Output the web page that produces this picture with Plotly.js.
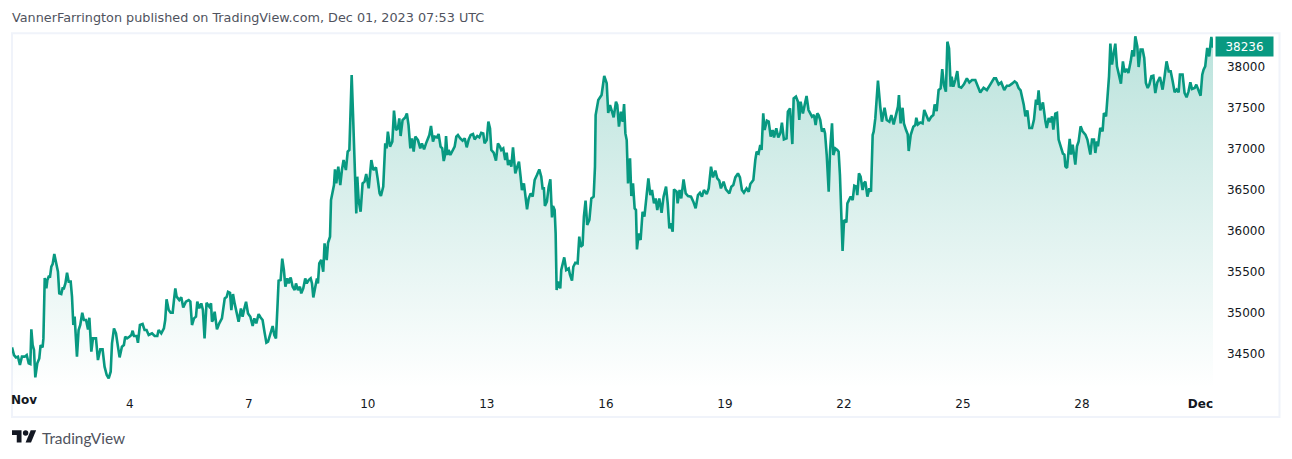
<!DOCTYPE html>
<html><head><meta charset="utf-8">
<script src="https://cdn.plot.ly/plotly-3.0.1.min.js"></script>
<style>html,body{margin:0;padding:0;background:#fff;overflow:hidden}#c{width:1292px;height:459px}</style>
</head><body><div id="c"></div>
<script>
// [hours since Nov 1 00:00 UTC, BTC price]
const nov1to6 = [[0,34579],[1.2,34486],[2.4,34457],[3.6,34466],[4.8,34364],[6,34466],[7.7,34466],[8.9,34486],[10.1,34384],[11.1,34376],[11.7,34799],[12.5,34608],[13.3,34547],[14.1,34213],[15.3,34384],[16.5,34445],[17.3,34608],[18.5,34579],[19,34689],[19.8,35425],[20.8,35299],[21.4,35401],[22.2,35442],[23,35442],[23.8,35564],[24.6,35596],[25.6,35718],[26.8,35604],[27.8,35503],[28.6,35238],[29.8,35230],[30.6,35299],[31.4,35299],[32.3,35360],[33.3,35490],[34.3,35381],[35.5,35381],[36.3,35198],[37.1,34852],[37.9,34954],[38.7,34669],[39.3,34466],[40.3,34791],[41.3,34852],[42.5,35002],[43.5,34913],[44.8,34913],[46,34799],[46.8,34941],[48,34527],[49,34689],[50.8,34689],[52,34425],[53.4,34555],[54.8,34555],[56,34344],[57.3,34242],[58.5,34201],[59.7,34283],[60.5,34628],[61.7,34811],[62.9,34750],[64.1,34588],[65.1,34457],[66.5,34588],[67.7,34608],[68.5,34710],[69.6,34689],[71,34710],[72.2,34730],[73,34783],[73.8,34718],[75.4,34718],[76.2,34636],[77.4,34852],[79,34864],[80.2,34791],[81.4,34791],[82.7,34730],[84.7,34750],[86.3,34718],[87.9,34718],[88.7,34791],[90.3,34750],[91.9,34811],[92.7,34913],[93.5,35165],[94.8,35035],[96,35002],[97.2,35002],[98,35157],[98.8,35299],[99.6,35198],[101.2,35157],[102.4,35190],[103.6,35067],[105.2,35137],[106.9,35157],[107.9,35137],[108.9,34852],[110.1,34933],[111.3,34954],[112.1,35137],[113.3,35055],[114.5,35116],[115.5,35035],[116.5,34689],[117.7,35124],[119.4,35076],[120.4,35116],[121,34893]];
const nov6to11 = [[121.6,34913],[122.6,35014],[124,34799],[125.4,34872],[127,34933],[128.7,35177],[129.9,35197],[130.7,35258],[131.9,35246],[132.7,35035],[133.7,35230],[134.7,35116],[135.9,34994],[137.1,34892],[138.5,35055],[139.5,34953],[140.6,35055],[141.6,35136],[142.8,34994],[144.2,34953],[145.6,34840],[146.6,34933],[147.8,34872],[149.2,34986],[150.4,34945],[151.6,34913],[152.9,34750],[153.9,34636],[154.9,34648],[156.3,34750],[157.7,34840],[158.7,34730],[159.7,34689],[160.7,35116],[161.3,35393],[162.5,35401],[163.5,35661],[164.5,35523],[165.4,35319],[166.6,35421],[167.4,35360],[168.6,35433],[169.8,35319],[171,35279],[171.8,35360],[173,35279],[174.2,35319],[175,35238],[176.2,35299],[177.4,35421],[178.3,35360],[179.5,35401],[180.7,35421],[181.5,35360],[182.3,35189],[183.5,35319],[184.5,35421],[185.1,35360],[185.9,35604],[187.1,35645],[188.3,35502],[189.1,35848],[190.4,35645],[191.2,35856],[192.4,35930],[193,36377],[194,36466],[194.8,36560],[195.4,36751],[196.2,36580],[197.4,36784],[198.6,36560],[199.6,36743],[200.6,36865],[202,36743],[203.1,36967],[204.1,36987],[204.9,37597],[205.5,37902],[206.3,37434],[207.3,36743],[208.3,36214],[208.9,36662],[209.7,36377],[210.9,36235],[212.1,36580],[213.3,36601],[214.3,36694],[215.8,36519],[216.6,36702],[217.4,36865],[218.6,36743],[220.2,36775],[221.2,36641],[222.4,36458],[223.2,36426],[224.6,36540],[225.8,37068],[226.6,37007],[227.4,37211],[228.7,37028],[230.1,37089],[231.1,37467],[232.3,37231],[233.5,37251],[234.3,37373],[235.1,37158],[236.3,37353],[237.9,37385],[238.9,37434],[239.9,37292],[241,37007]];
const nov11to16 = [[242,37129],[243,36967],[244,37150],[245.6,37109],[247,37007],[248,37068],[249.3,36995],[250.5,37068],[251.7,37142],[252.5,37170],[253.5,37280],[254.7,37089],[255.7,37150],[257.1,37142],[258.1,37182],[259.3,37028],[260.3,37007],[261.2,36853],[262,36926],[262.6,37158],[263.4,36926],[264.2,36987],[265.2,36926],[266.6,36987],[267.8,37028],[268.8,37150],[269.8,37170],[271.2,37129],[272.6,37101],[273.9,37129],[275.1,37020],[276.3,37117],[277.5,37170],[278.9,37182],[279.9,37117],[281.5,37158],[282.7,37142],[283.9,37198],[285.1,37190],[285.9,37068],[287.2,37109],[288.2,37333],[289.2,37251],[290,36987],[291.4,36954],[292.8,36857],[294,37068],[295.2,37028],[296,36987],[297.2,37007],[298.4,36865],[299.3,36954],[300.1,36804],[301.1,36865],[302.1,36784],[303.1,37020],[304.5,36702],[305.7,36784],[306.7,36845],[307.7,36662],[308.5,36499],[309.7,36580],[310.5,36458],[311.6,36263],[312.6,36397],[313.8,36458],[315,36418],[316.2,36621],[317.6,36682],[319,36751],[320.2,36662],[321,36519],[321.8,36519],[322.4,36304],[323.6,36357],[324.7,36540],[325.7,36629],[326.7,36165],[327.3,36304],[328.3,36255],[328.9,35970],[329.5,35279],[330.3,35380],[331.7,35299],[332.3,35523],[333.1,35584],[334.1,35677],[335.3,35523],[336.8,35543],[337.6,35462],[338.8,35393],[339.6,35563],[340.8,35612],[342.2,35604],[343.2,35930],[344,35808],[345.2,35828],[346,36174],[347,36369],[348,36072],[349.3,36133],[350.5,36397],[351.9,36418],[352.7,36784],[353.1,37414],[354.7,37597],[356.7,37658],[358.3,37890],[359.8,37801],[360.7,37439],[361.8,37536]];
const nov16to21 = [[363,37455],[364,37385],[365.4,37577],[366.2,37536],[367.2,37272],[368.4,37455],[369.5,37333],[370.3,37548],[371.1,37190],[371.9,37109],[372.7,36580],[373.9,36885],[374.7,36426],[375.7,36580],[376.7,36275],[377.5,36255],[378.1,35775],[379.1,35970],[380.3,35889],[381.5,36234],[382.6,36174],[383.6,36377],[385,36641],[386.2,36438],[387.2,36499],[388.4,36336],[389.4,36397],[390.4,36255],[391.6,36397],[393,36222],[394.2,36418],[395.7,36540],[396.7,36336],[397.7,36031],[398.5,36092],[399.7,35990],[400.5,36507],[402.1,36479],[402.7,36336],[403.9,36499],[404.9,36397],[406.3,36629],[407.6,36458],[409,36426],[410.8,36418],[412.2,36357],[413.6,36275],[415,36438],[416.2,36466],[417.4,36418],[418.6,36499],[420.3,36450],[421.5,36519],[422.9,36784],[424.1,36653],[425.5,36735],[426.7,36641],[427.9,36613],[428.9,36519],[430.5,36601],[431.9,36507],[434,36458],[435.2,36540],[436.4,36560],[437.6,36653],[439.2,36702],[440.4,36653],[441.6,36499],[442.8,36466],[444.4,36519],[445.7,36479],[446.7,36572],[448.5,36621],[449.7,36865],[450.5,36967],[451.7,36946],[452.7,37048],[453.5,36987],[454.5,37434],[455.3,37231],[456.7,37345],[457.8,37333],[459,37150],[460.2,37231],[461,37141],[462.4,37251],[463.6,37141],[464.8,37190],[465.8,37320],[467,37117],[468.6,37129],[469.4,37455],[470.7,37495],[472.1,37060],[472.9,37617],[474.3,37638],[475.5,37577],[476.3,37353],[477.1,37577],[478.5,37434],[479.5,37536],[480.7,37646],[481.9,37475],[484,37394]];
const nov21to26 = [[485.2,37414],[486.2,37292],[487.2,37434],[488,37414],[489,37353],[490,37211],[491.1,37251],[491.9,37190],[492.9,36926],[494.1,36479],[494.9,36967],[496.1,37312],[496.9,36926],[498.1,37007],[499.3,36987],[500.1,36967],[500.9,36682],[502.1,36031],[502.5,35755],[503.4,36133],[504.8,36104],[505.4,36336],[506.2,36377],[507.4,36418],[508.6,36377],[509.6,36552],[510.8,36540],[511.4,36438],[512.4,36702],[513.4,36662],[514.6,36499],[515.4,36580],[516.3,36601],[517.5,36418],[518.7,36519],[519.7,36479],[520.7,37170],[521.3,37211],[522.3,37373],[523.9,37833],[525.3,37516],[526.3,37333],[527.9,37503],[529.2,37353],[530.8,37333],[532,37414],[533.4,37300],[534.8,37434],[536,37516],[536.6,37658],[537.6,37312],[538.8,37503],[539.6,37312],[540.9,37231],[541.9,37178],[542.5,36975],[543.7,37170],[545.3,37272],[546.5,37292],[547.1,37381],[548.1,37300],[549.5,37324],[550.9,37312],[551.9,37475],[553.1,37414],[554.6,37341],[556.2,37394],[557.4,37414],[558.2,37544],[559.4,37463],[560.6,37719],[561.8,37739],[562.8,37975],[563.8,37780],[565,37699],[565.9,38309],[566.9,38227],[567.9,37760],[568.5,37882],[569.5,37760],[570.7,37841],[571.9,37951],[572.9,37760],[574.3,37747],[575.9,37788],[577.7,37861],[579.2,37812],[580.8,37841],[582.8,37841],[584.2,37760],[585.8,37690],[587.8,37747],[589.8,37719],[591.9,37788],[594.1,37861],[595.3,37861],[596.9,37788],[598.5,37812],[600.3,37719],[601.9,37772],[603.3,37772]];
const nov26toDec1 = [[605,37797],[606.6,37825],[607.8,37805],[609,37744],[610.2,37715],[611,37642],[612.1,37541],[613.1,37398],[614.3,37471],[615.5,37256],[617.1,37256],[618.3,37358],[619.5,37602],[620.3,37541],[621.1,37715],[622.1,37471],[623.7,37569],[625.2,37337],[626,37256],[627.2,37378],[628.2,37325],[629.2,37398],[630,37236],[631.2,37431],[632.2,37439],[633.2,37114],[634.8,36992],[635.8,36943],[636.7,36931],[637.3,36788],[638.3,36768],[639.3,37032],[639.9,37122],[640.7,36931],[641.7,37053],[643.3,36809],[644.3,37032],[645.3,37093],[646.5,37276],[647.7,37215],[649.4,37175],[650.6,37114],[651.4,37012],[652.4,36931],[653.4,37114],[654.6,37114],[655.4,36951],[656.4,37093],[657,37032],[658.4,37256],[659.8,37215],[660.6,37439],[661.9,37398],[662.7,37602],[663.7,37886],[664.5,38285],[665.5,38029],[666.5,38163],[667.5,38285],[668.5,38008],[669.9,37886],[670.9,37797],[672.1,38069],[673.1,37935],[674.4,37976],[675.4,37927],[676.8,38069],[677.8,38204],[678.8,38130],[679.6,38374],[680.8,38252],[681.6,38000],[682.8,38212],[684,38212],[685,38110],[686,37805],[687.1,37744],[688.1,37785],[689.3,37886],[690.5,37894],[691.7,37683],[692.9,37813],[694.5,37878],[696.1,37724],[697.3,37886],[698.5,38069],[699.8,37947],[701,37947],[702.2,37825],[703.4,37691],[704.6,37724],[705.8,37691],[706.6,37907],[708.2,37907],[709.4,37683],[710.6,37630],[711.8,37703],[712.9,37813],[713.9,37732],[715.5,37744],[716.5,37785],[717.9,37724],[719.1,37650],[720.1,37907],[720.9,37968],[721.9,38008],[723.1,38232],[724.3,38130],[725.6,38366],[726.6,38236]];

const xTickHours = [71.3,143.3,215.3,287.3,359.3,431.3,503.3,575.3,647.3,719];
const xTickLabels = ['4','7','10','13','16','19','22','25','28','<b>Dec</b>'];
const yTicks = [34500,35000,35500,36000,36500,37000,37500,38000];
const publishedText = 'VannerFarrington published on TradingView.com, Dec 01, 2023 07:53 UTC';

const series = [...nov1to6,...nov6to11,...nov11to16,...nov16to21,...nov21to26,...nov26toDec1];
const hours = series.map(p=>p[0]);
const prices = series.map(p=>p[1]);
const lastPrice = prices[prices.length-1];

const W=1292,H=459,L=12,R=1213,T=34,B=388;
const px=x=>(x-L)/(R-L), py=y=>(B-y)/(B-T);
const yPerPx=12.2, yAt=y=>38000-(y-67)*yPerPx;
const yBottom=yAt(B), yTop=yAt(T);
const font='"DejaVu Sans", Verdana, sans-serif';
const lg=(x,y)=>`${px(12+x*0.68)} ${py(427.5+y*0.68)}`;

const shapes=[
 {type:'rect',xref:'paper',yref:'paper',x0:px(12),x1:px(1279.5),y0:py(417),y1:py(33.3),line:{color:'#f0f3fa',width:2},layer:'below'},
 {type:'path',xref:'paper',yref:'paper',path:`M${lg(14,22)}L${lg(7,22)}L${lg(7,11)}L${lg(0,11)}L${lg(0,4)}L${lg(14,4)}Z`,fillcolor:'#131722',line:{width:0}},
 {type:'path',xref:'paper',yref:'paper',path:`M${lg(28,22)}L${lg(20,22)}L${lg(27.5,4)}L${lg(35.5,4)}Z`,fillcolor:'#131722',line:{width:0}},
 {type:'circle',xref:'paper',yref:'paper',x0:px(12+16*0.68),x1:px(12+24*0.68),y0:py(427.5+12*0.68),y1:py(427.5+4*0.68),fillcolor:'#131722',line:{width:0}}
];
const annotations=[
 {xref:'paper',yref:'paper',x:px(10),y:py(18),xanchor:'left',yanchor:'middle',showarrow:false,text:publishedText,font:{family:font,size:12.8,color:'#50535e'}},
 {xref:'paper',yref:'paper',x:px(10),y:py(400),xanchor:'left',yanchor:'middle',showarrow:false,text:'<b>Nov</b>',font:{family:font,size:12,color:'#131722'},borderpad:0},
 {xref:'paper',yref:'paper',x:px(40),y:py(438),xanchor:'left',yanchor:'middle',showarrow:false,text:'TradingView',font:{family:'Lato, sans-serif',size:15.4,color:'#50535e'}},
 {xref:'paper',yref:'y',x:1,y:lastPrice,xanchor:'left',yanchor:'middle',xshift:2,yshift:1,showarrow:false,text:String(lastPrice),width:57,height:19,bgcolor:'#089981',borderpad:0,align:'center',font:{family:font,size:12,color:'#ffffff'}}
];
const trace={type:'scatter',mode:'lines',x:hours,y:prices,line:{color:'#089981',width:2.6,shape:'linear'},
 fill:'tozeroy',fillcolor:'rgba(8,153,129,0.15)',
 fillgradient:{type:'vertical',start:yBottom,stop:yTop,colorscale:[[0,'rgba(8,153,129,0)'],[1,'rgba(8,153,129,0.28)']]},
 hoverinfo:'skip',showlegend:false,cliponaxis:true};
Plotly.newPlot('c',[trace],{
 width:W,height:H,paper_bgcolor:'#fff',plot_bgcolor:'rgba(0,0,0,0)',showlegend:false,
 margin:{l:L,r:W-R,t:T,b:H-B,pad:0},
 xaxis:{range:[0,726.6],tickmode:'array',tickvals:xTickHours,ticktext:xTickLabels,showgrid:false,zeroline:false,showline:false,ticks:'outside',ticklen:5,tickcolor:'rgba(0,0,0,0)',tickfont:{family:font,size:12,color:'#131722'},fixedrange:true,automargin:false},
 yaxis:{range:[yBottom,yTop],side:'right',tickmode:'array',tickvals:yTicks,ticktext:yTicks.map(String),showgrid:false,zeroline:false,showline:false,ticks:'outside',ticklen:10.5,tickcolor:'rgba(0,0,0,0)',tickfont:{family:font,size:12,color:'#131722'},fixedrange:true,automargin:false},
 shapes,annotations
},{displayModeBar:false,responsive:false,staticPlot:true});
</script></body></html>
